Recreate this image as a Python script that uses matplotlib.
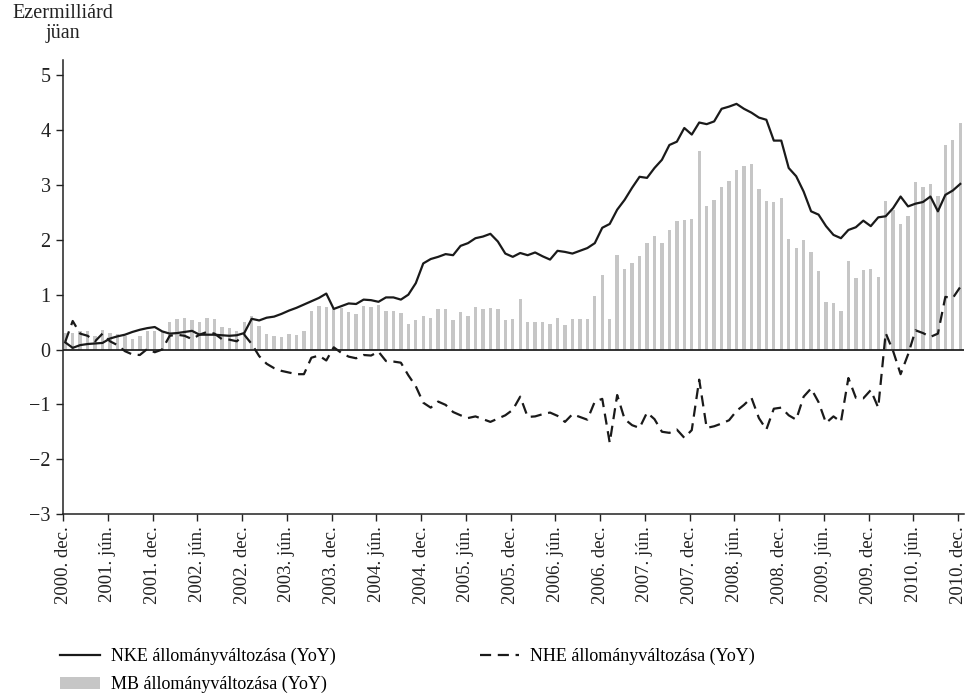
import matplotlib
matplotlib.use("Agg")
import matplotlib.pyplot as plt
import numpy as np

plt.rcParams['font.family'] = ['Liberation Serif', 'DejaVu Serif']

# ---------------------------------------------------------------------------
# Data (monthly, 2000 dec .. 2010 dec), ezermilliárd jüan

years = list(range(2000, 2011))
tick_labels = []
for y in years:
    if y > 2000:
        tick_labels.append(f"{y}. jún.")
    tick_labels.append(f"{y}. dec.")

nke = [0.13, 0.03, 0.08, 0.10, 0.11, 0.12, 0.20, 0.24, 0.27, 0.32, 0.36, 0.39,
       0.41, 0.33, 0.29, 0.30, 0.32, 0.34, 0.27, 0.27, 0.27, 0.26, 0.25, 0.26,
       0.30, 0.56, 0.53, 0.58, 0.60, 0.65, 0.71, 0.76, 0.82, 0.88, 0.94, 1.02,
       0.74, 0.79, 0.84, 0.83, 0.91, 0.90, 0.87, 0.95, 0.95, 0.91, 1.00, 1.21,
       1.57, 1.65, 1.69, 1.74, 1.72, 1.89, 1.94, 2.03, 2.06, 2.11, 1.97, 1.75,
       1.69, 1.76, 1.72, 1.77, 1.70, 1.64, 1.80, 1.78, 1.75, 1.80, 1.85, 1.94,
       2.22, 2.29, 2.55, 2.73, 2.95, 3.15, 3.13, 3.31, 3.46, 3.73, 3.79, 4.04,
       3.92, 4.14, 4.11, 4.16, 4.39, 4.43, 4.48, 4.39, 4.32, 4.23, 4.19, 3.81,
       3.81, 3.31, 3.16, 2.88, 2.52, 2.46, 2.25, 2.09, 2.03, 2.18, 2.23, 2.35,
       2.25, 2.41, 2.43, 2.58, 2.79, 2.61, 2.66, 2.69, 2.79, 2.52, 2.82, 2.90,
       3.02]

nhe = [0.14, 0.52, 0.29, 0.25, 0.15, 0.29, 0.15, 0.08, -0.03, -0.09, -0.10, 0.01,
       -0.05, 0.00, 0.25, 0.27, 0.25, 0.19, 0.27, 0.32, 0.29, 0.19, 0.18, 0.15,
       0.27, 0.10, -0.12, -0.26, -0.34, -0.39, -0.42, -0.45, -0.45, -0.15, -0.11, -0.20,
       0.04, -0.06, -0.13, -0.16, -0.10, -0.11, -0.04, -0.21, -0.22, -0.24, -0.47, -0.67,
       -0.97, -1.06, -0.95, -1.01, -1.14, -1.20, -1.25, -1.22, -1.27, -1.32, -1.26, -1.20,
       -1.10, -0.86, -1.23, -1.22, -1.18, -1.15, -1.21, -1.32, -1.18, -1.23, -1.28, -0.95,
       -0.90, -1.70, -0.83, -1.27, -1.38, -1.43, -1.15, -1.27, -1.50, -1.52, -1.46, -1.61,
       -1.47, -0.55, -1.43, -1.40, -1.35, -1.29, -1.12, -1.01, -0.88, -1.25, -1.46, -1.08,
       -1.06, -1.20, -1.28, -0.86, -0.71, -0.96, -1.34, -1.22, -1.32, -0.52, -0.88, -0.89,
       -0.74, -1.06, 0.30, -0.03, -0.45, -0.09, 0.35, 0.30, 0.23, 0.29, 0.96, 0.94,
       1.14]

mb = [0.30, 0.30, 0.34, 0.33, 0.25, 0.36, 0.31, 0.29, 0.24, 0.19, 0.25, 0.34,
      0.34, 0.33, 0.51, 0.56, 0.58, 0.53, 0.50, 0.58, 0.55, 0.41, 0.39, 0.34,
      0.51, 0.62, 0.42, 0.29, 0.25, 0.22, 0.29, 0.27, 0.33, 0.71, 0.80, 0.78,
      0.75, 0.75, 0.68, 0.64, 0.80, 0.77, 0.82, 0.70, 0.71, 0.66, 0.47, 0.53,
      0.61, 0.57, 0.73, 0.73, 0.53, 0.69, 0.62, 0.78, 0.73, 0.76, 0.73, 0.53,
      0.55, 0.93, 0.50, 0.51, 0.50, 0.47, 0.58, 0.45, 0.55, 0.55, 0.55, 0.98,
      1.35, 0.55, 1.72, 1.46, 1.58, 1.70, 1.95, 2.07, 1.95, 2.18, 2.35, 2.36,
      2.38, 3.62, 2.62, 2.73, 2.97, 3.08, 3.28, 3.34, 3.39, 2.93, 2.71, 2.69,
      2.77, 2.02, 1.86, 2.00, 1.78, 1.44, 0.87, 0.84, 0.71, 1.62, 1.30, 1.45,
      1.47, 1.33, 2.71, 2.55, 2.28, 2.44, 3.05, 2.97, 3.01, 2.80, 3.73, 3.82,
      4.14]

# ---------------------------------------------------------------------------
# Plot

fig = plt.figure(figsize=(9.66, 6.96), dpi=100)
ax = fig.add_axes([63 / 966, 1 - 514 / 696, 901 / 966, 454 / 696])

x = np.arange(len(nke)) + 0.3

bars = ax.bar(x, mb, width=0.45, color='#c6c6c6', linewidth=0, zorder=1)
ax.axhline(0, color='#222222', linewidth=1.3, zorder=2)
l_nke, = ax.plot(x, nke, color='#1a1a1a', linewidth=1.6, zorder=3)
l_nhe, = ax.plot(x, nhe, color='#1a1a1a', linewidth=1.6, linestyle=(0, (5, 3)), zorder=3)

ax.set_xlim(0, 120.8)
ax.set_ylim(-3, 5.28)

ax.set_yticks(np.arange(-3, 6, 1))
ax.set_yticklabels(['\u22123', '\u22122', '\u22121', '0', '1', '2', '3', '4', '5'])
ax.set_xticks(np.arange(0, 121, 6))
ax.set_xticklabels(tick_labels, rotation=90)

ax.tick_params(axis='both', direction='out', length=5, width=1, color='#222222',
               labelcolor='#222222')
ax.tick_params(axis='y', labelsize=14.5, pad=4)
ax.tick_params(axis='x', labelsize=13.5, pad=4)

for side in ['top', 'right']:
    ax.spines[side].set_visible(False)
for side in ['left', 'bottom']:
    ax.spines[side].set_color('#222222')
    ax.spines[side].set_linewidth(1.1)

fig.text(63 / 966, 1 - 4 / 696, 'Ezermilliárd\njüan', ha='center', va='top',
         fontsize=14.5, color='#222222', linespacing=1.1)

fig.legend([l_nke, bars, l_nhe],
           ['NKE állományváltozása (YoY)', 'MB állományváltozása (YoY)',
            'NHE állományváltozása (YoY)'],
           loc='upper left', bbox_to_anchor=(60 / 966, 1 - 648 / 696), ncol=2,
           frameon=False, fontsize=13, handlelength=2.2, handletextpad=0.6,
           columnspacing=8.0, labelspacing=0.6, borderaxespad=0, borderpad=0)

plt.savefig('out.png', dpi=100)
